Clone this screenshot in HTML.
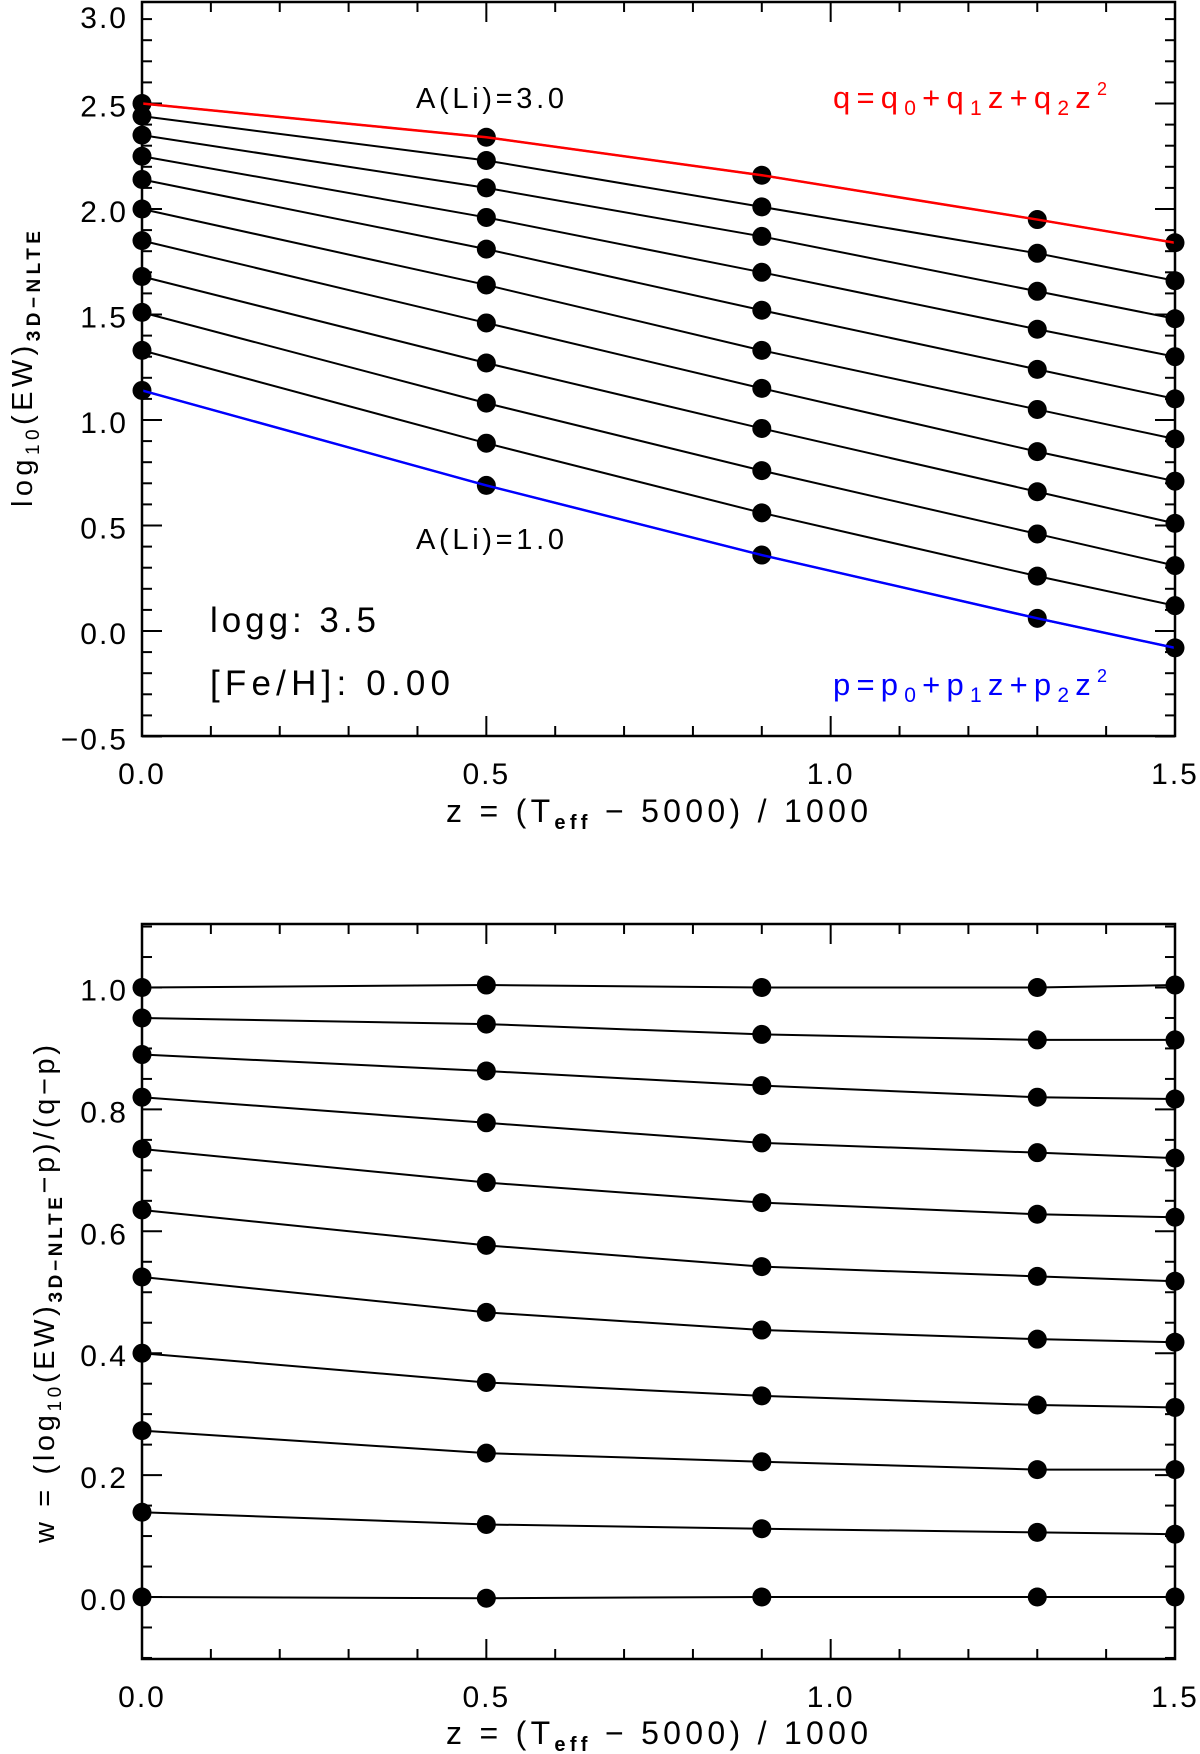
<!DOCTYPE html>
<html><head><meta charset="utf-8"><style>
html,body{margin:0;padding:0;background:#fff}
svg{display:block}
text{font-family:"Liberation Sans",sans-serif;fill:#000}
</style></head><body>
<svg id="fig" width="1200" height="1754" viewBox="0 0 1200 1754" xmlns="http://www.w3.org/2000/svg">
<g id="top"></g>
<g id="bot"></g>
<text x="490" y="108" font-size="29" text-anchor="middle" textLength="148" lengthAdjust="spacing">A(Li)=3.0</text>
<text x="490" y="549" font-size="29" text-anchor="middle" textLength="148" lengthAdjust="spacing">A(Li)=1.0</text>
<text x="210" y="632" font-size="35" textLength="166" lengthAdjust="spacing">logg: 3.5</text>
<text x="210" y="695" font-size="35" textLength="240" lengthAdjust="spacing">[Fe/H]: 0.00</text>
<text x="833" y="108" font-size="31" textLength="274" lengthAdjust="spacing" style="fill:#ff0000">q=q<tspan font-size="21" dy="7">0</tspan><tspan dy="-7">+q</tspan><tspan font-size="21" dy="7">1</tspan><tspan dy="-7">z+q</tspan><tspan font-size="21" dy="7">2</tspan><tspan dy="-7">z</tspan><tspan font-size="18" dy="-13">2</tspan></text>
<text x="833" y="695" font-size="31" textLength="274" lengthAdjust="spacing" style="fill:#0000ff">p=p<tspan font-size="21" dy="7">0</tspan><tspan dy="-7">+p</tspan><tspan font-size="21" dy="7">1</tspan><tspan dy="-7">z+p</tspan><tspan font-size="21" dy="7">2</tspan><tspan dy="-7">z</tspan><tspan font-size="18" dy="-13">2</tspan></text>
<text x="446" y="822" font-size="32" textLength="422" lengthAdjust="spacing">z = (T<tspan font-size="20" dy="7" font-weight="bold">eff</tspan><tspan dy="-7"> − 5000) / 1000</tspan></text>
<text x="446" y="1744" font-size="32" textLength="422" lengthAdjust="spacing">z = (T<tspan font-size="20" dy="7" font-weight="bold">eff</tspan><tspan dy="-7"> − 5000) / 1000</tspan></text>
<text transform="translate(32,507) rotate(-90)" font-size="29" textLength="276" lengthAdjust="spacing">log<tspan font-size="19" dy="7">10</tspan><tspan dy="-7">(EW)</tspan><tspan font-size="19" dy="8" font-weight="bold">3D−NLTE</tspan></text>
<text transform="translate(54,1543) rotate(-90)" font-size="29" textLength="498" lengthAdjust="spacing">w = (log<tspan font-size="19" dy="7">10</tspan><tspan dy="-7">(EW)</tspan><tspan font-size="19" dy="8" font-weight="bold">3D−NLTE</tspan><tspan dy="-8">−p)/(q−p)</tspan></text>
</svg>
<script>
const zVals = [0, 0.5, 0.9, 1.3, 1.5];
const topSeries = [
 [2.50, 2.34, 2.16, 1.95, 1.84],
 [2.44, 2.23, 2.01, 1.79, 1.66],
 [2.35, 2.10, 1.87, 1.61, 1.48],
 [2.25, 1.96, 1.70, 1.43, 1.30],
 [2.14, 1.81, 1.52, 1.24, 1.10],
 [2.00, 1.64, 1.33, 1.05, 0.91],
 [1.85, 1.46, 1.15, 0.85, 0.71],
 [1.68, 1.27, 0.96, 0.66, 0.51],
 [1.51, 1.08, 0.76, 0.46, 0.31],
 [1.33, 0.89, 0.56, 0.26, 0.12],
 [1.14, 0.69, 0.36, 0.06, -0.08]
];
const botSeries = [
 [1.000, 1.004, 1.000, 1.000, 1.004],
 [0.950, 0.940, 0.923, 0.914, 0.914],
 [0.890, 0.863, 0.839, 0.820, 0.817],
 [0.820, 0.778, 0.745, 0.729, 0.720],
 [0.735, 0.680, 0.647, 0.628, 0.623],
 [0.635, 0.577, 0.542, 0.526, 0.518],
 [0.525, 0.467, 0.438, 0.423, 0.418],
 [0.400, 0.352, 0.330, 0.315, 0.311],
 [0.273, 0.236, 0.222, 0.209, 0.209],
 [0.139, 0.119, 0.112, 0.106, 0.103],
 [0.000, -0.002, 0.000, 0.000, 0.000]
];
const xTickLabels = ["0.0", "0.5", "1.0", "1.5"];
const topYTickLabels = ["−0.5", "0.0", "0.5", "1.0", "1.5", "2.0", "2.5", "3.0"];
const topYTickValues = [-0.5, 0.0, 0.5, 1.0, 1.5, 2.0, 2.5, 3.0];
const botYTickLabels = ["0.0", "0.2", "0.4", "0.6", "0.8", "1.0"];
const botYTickValues = [0.0, 0.2, 0.4, 0.6, 0.8, 1.0];

const NS = "http://www.w3.org/2000/svg";
const X0 = 142, X1 = 1175;
function xs(z){ return X0 + (X1 - X0) * z / 1.5; }
function yTop(v){ return 631 - 211 * v; }
function yBot(w){ return 1597 - 609.5 * w; }
function mk(tag, attrs, parent){
  const e = document.createElementNS(NS, tag);
  for (const k in attrs) e.setAttribute(k, attrs[k]);
  parent.appendChild(e);
  return e;
}
function drawPanel(g, top, bottom, ys, ymin, ymax, minorStep, majorStep, yLabels, yVals, series, name){
  for (let i = 0; i <= 15; i++){
    const x = xs(i * 0.1), major = i % 5 === 0, L = major ? 20 : 10;
    const t1 = mk("line", {x1:x, x2:x, y1:bottom, y2:bottom - L, stroke:"#000", "stroke-width":2}, g);
    
    
    const t2 = mk("line", {x1:x, x2:x, y1:top, y2:top + L, stroke:"#000", "stroke-width":2}, g);
    
    
    if (major){
      const tl = mk("text", {x:x, y:bottom + 48, "font-size":30, "text-anchor":"middle", "letter-spacing":2}, g);
      tl.textContent = xTickLabels[i / 5];
      
      
    }
  }
  const n = Math.round((ymax - ymin) / minorStep);
  for (let i = 0; i <= n; i++){
    const v = ymin + i * minorStep, y = ys(v);
    if (y < top - 1 || y > bottom + 1) continue;
    const r = v / majorStep;
    const major = Math.abs(r - Math.round(r)) < 1e-6, L = major ? 20 : 10;
    const t1 = mk("line", {x1:X0, x2:X0 + L, y1:y, y2:y, stroke:"#000", "stroke-width":2}, g);
    
    
    const t2 = mk("line", {x1:X1, x2:X1 - L, y1:y, y2:y, stroke:"#000", "stroke-width":2}, g);
    
    
  }
  yLabels.forEach((lab, i) => {
    let y = ys(yVals[i]) + 13;
    if (y < 28) y = 28;
    const tl = mk("text", {x:128, y:y, "font-size":30, "text-anchor":"end", "letter-spacing":2}, g);
    tl.textContent = lab;
    
    
  });
  series.forEach((s, k) => {
    let color = "#000";
    if (name === "top" && k === 0) color = "#ff0000";
    if (name === "top" && k === series.length - 1) color = "#0000ff";
    const pts = s.map((v, j) => xs(zVals[j]) + "," + ys(v)).join(" ");
    const pl = mk("polyline", {points:pts, fill:"none", stroke:"#000", "stroke-width":2}, g);
    
    
    s.forEach((v, j) => {
      const c = mk("circle", {cx:xs(zVals[j]), cy:ys(v), r:9.5, fill:"#000"}, g);
      
      
    });
    if (color !== "#000"){
      const fl = mk("polyline", {points:pts, fill:"none", stroke:color, "stroke-width":2.5}, g);
      
      
    }
  });
  const frame = mk("rect", {x:X0, y:top, width:X1 - X0, height:bottom - top, fill:"none", stroke:"#000", "stroke-width":2.5}, g);
  
  
}
drawPanel(document.getElementById("top"), 2, 736, yTop, -0.5, 3.0, 0.1, 0.5, topYTickLabels, topYTickValues, topSeries, "top");
drawPanel(document.getElementById("bot"), 924, 1659, yBot, -0.1, 1.1, 0.05, 0.2, botYTickLabels, botYTickValues, botSeries, "bottom");
</script>
</body></html>
